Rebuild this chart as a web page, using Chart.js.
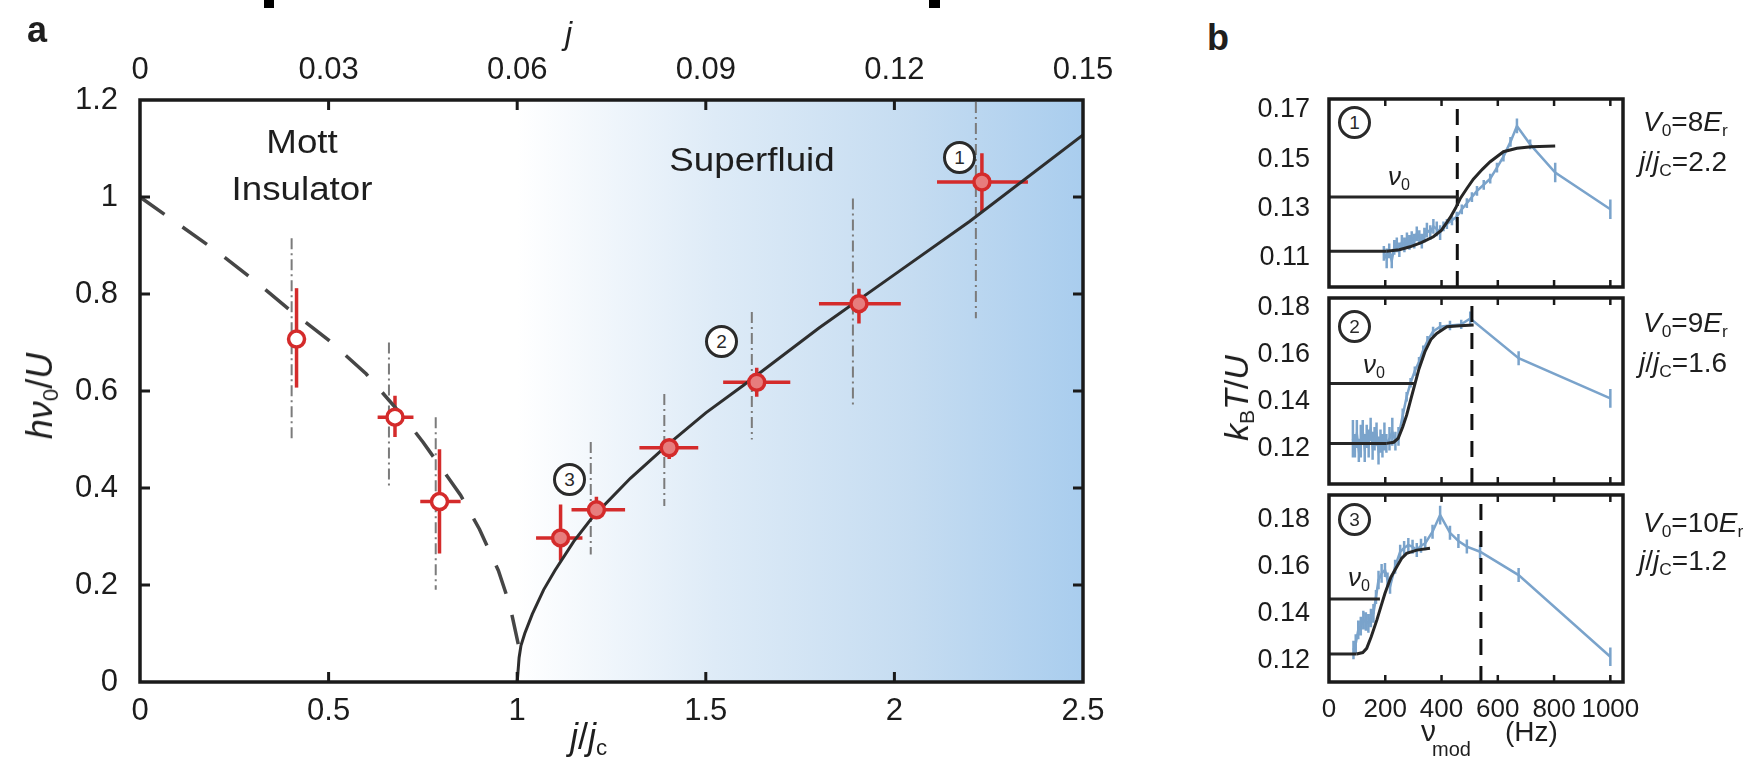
<!DOCTYPE html>
<html lang="en">
<head>
<meta charset="UTF-8">
<title>Mott insulator to superfluid: excitation gap</title>
<script src="https://cdn.jsdelivr.net/npm/chart.js"></script>
<style>
  body { margin: 0; background: #fff; font-family: "Liberation Sans", Arial, sans-serif; color: #1e1e1e; }
  #page { position: relative; width: 1763px; height: 758px; overflow: hidden; background: #fff; }
  canvas { position: absolute; }
  .lbl { position: absolute; white-space: nowrap; line-height: 1; }
  .ctr { transform: translateX(-50%) scaleX(1.08); }
  .rot { transform: translate(-50%, -50%) rotate(-90deg); }
  .lbl sub { font-size: 0.62em; vertical-align: -0.28em; line-height: 0; }
  .circ { position: absolute; width: 27px; height: 27px; border: 3px solid #2a2a2a; border-radius: 50%;
          background: #fff; font-size: 19px; line-height: 27px; text-align: center; color: #2a2a2a; }
  .crop { position: absolute; top: 0; height: 8px; background: #000; }
</style>
</head>
<body>
<div id="page">
  <canvas id="gapChart" width="1150" height="758" style="left:0;top:0"></canvas>
  <canvas id="spec1" width="400" height="205" style="left:1250px;top:90px"></canvas>
  <canvas id="spec2" width="400" height="200" style="left:1250px;top:290px"></canvas>
  <canvas id="spec3" width="400" height="273" style="left:1250px;top:485px"></canvas>

  <!-- bits of the cropped heading above the figure -->
  <div class="crop" style="left:264px;width:10px"></div>
  <div class="crop" style="left:929px;width:11px"></div>

  <!-- panel a text -->
  <div class="lbl" style="left:27px;top:12px;font-size:36px;font-weight:bold">a</div>
  <div class="lbl" style="left:565px;top:17px;font-size:32px;font-style:italic">j</div>
  <div class="lbl ctr" style="left:302px;top:124px;font-size:34px">Mott</div>
  <div class="lbl ctr" style="left:302px;top:171px;font-size:34px">Insulator</div>
  <div class="lbl ctr" style="left:752px;top:142px;font-size:34px">Superfluid</div>
  <div class="lbl rot" style="left:40px;top:396px;font-size:36px"><i>h</i><i>ν</i><sub>0</sub>/<i>U</i></div>
  <div class="lbl" style="left:570px;top:719px;font-size:36px"><i>j</i>/<i>j</i><sub>c</sub></div>
  <div class="circ" style="left:943px;top:141px">1</div>
  <div class="circ" style="left:705px;top:325px">2</div>
  <div class="circ" style="left:553px;top:463px">3</div>

  <!-- panel b text -->
  <div class="lbl" style="left:1207px;top:20px;font-size:36px;font-weight:bold">b</div>
  <div class="lbl rot" style="left:1236px;top:398px;font-size:34px"><i>k</i><sub>B</sub><i>T</i>/<i>U</i></div>
  <div class="circ" style="left:1338px;top:106px">1</div>
  <div class="circ" style="left:1338px;top:310px">2</div>
  <div class="circ" style="left:1338px;top:503px">3</div>
  <div class="lbl" style="left:1388px;top:163px;font-size:26px"><i>ν</i><sub>0</sub></div>
  <div class="lbl" style="left:1363px;top:351px;font-size:26px"><i>ν</i><sub>0</sub></div>
  <div class="lbl" style="left:1348px;top:564px;font-size:26px"><i>ν</i><sub>0</sub></div>
  <div class="lbl" style="left:1643px;top:108px;font-size:28px"><i>V</i><sub>0</sub>=8<i>E</i><sub>r</sub></div>
  <div class="lbl" style="left:1639px;top:148px;font-size:28px"><i>j</i>/<i>j</i><sub>C</sub>=2.2</div>
  <div class="lbl" style="left:1643px;top:309px;font-size:28px"><i>V</i><sub>0</sub>=9<i>E</i><sub>r</sub></div>
  <div class="lbl" style="left:1639px;top:349px;font-size:28px"><i>j</i>/<i>j</i><sub>C</sub>=1.6</div>
  <div class="lbl" style="left:1643px;top:509px;font-size:28px"><i>V</i><sub>0</sub>=10<i>E</i><sub>r</sub></div>
  <div class="lbl" style="left:1639px;top:547px;font-size:28px"><i>j</i>/<i>j</i><sub>C</sub>=1.2</div>
  <div class="lbl" style="left:1421px;top:716px;font-size:30px">ν</div>
  <div class="lbl" style="left:1432px;top:739px;font-size:20px">mod</div>
  <div class="lbl" style="left:1505px;top:718px;font-size:28px">(Hz)</div>
</div>

<script>
// ---- panel a: axes ----
const jjcTicks = [0, 0.5, 1, 1.5, 2, 2.5];
const jjcLabels = ['0', '0.5', '1', '1.5', '2', '2.5'];
const jTicks = [0, 0.03, 0.06, 0.09, 0.12, 0.15];
const jLabels = ['0', '0.03', '0.06', '0.09', '0.12', '0.15'];
const gapTicks = [0, 0.2, 0.4, 0.6, 0.8, 1, 1.2];
const gapLabels = ['0', '0.2', '0.4', '0.6', '0.8', '1', '1.2'];

// ---- panel a: measured gap (red) ----
const gapX   = [0.415, 0.676, 0.794, 1.115, 1.21, 1.403, 1.635, 1.906, 2.232];
const gapY   = [0.707, 0.546, 0.372, 0.297, 0.355, 0.483, 0.618, 0.78, 1.031];
const gapXLo = [null, 0.63, 0.743, 1.05, 1.144, 1.324, 1.546, 1.80, 2.113];
const gapXHi = [null, 0.725, 0.85, 1.173, 1.286, 1.48, 1.724, 2.017, 2.354];
const gapYLo = [0.607, 0.505, 0.265, 0.25, 0.337, 0.46, 0.588, 0.739, 0.969];
const gapYHi = [0.812, 0.59, 0.48, 0.366, 0.382, 0.5, 0.648, 0.811, 1.09];
const superfluid = [false, false, false, true, true, true, true, true, true];

// grey dash-dot ranges
const rangeX  = [0.402, 0.66, 0.784, null, 1.195, 1.39, 1.622, 1.89, 2.216];
const rangeLo = [0.502, 0.405, 0.19, null, 0.263, 0.363, 0.5, 0.57, 0.75];
const rangeHi = [0.915, 0.70, 0.546, null, 0.495, 0.594, 0.763, 0.997, 1.196];

// theory curves
const mottX = [0, 0.1, 0.2, 0.3, 0.4, 0.5, 0.6, 0.7, 0.75, 0.8, 0.85, 0.9, 0.95, 0.98, 1.005];
const mottY = [1.0, 0.945, 0.89, 0.83, 0.765, 0.705, 0.635, 0.545, 0.495, 0.44, 0.385, 0.315, 0.23, 0.16, 0.07];
const sfX = [1.0, 1.005, 1.01, 1.02, 1.04, 1.07, 1.1, 1.15, 1.2, 1.3, 1.4, 1.5, 1.6, 1.8, 2.0, 2.2, 2.5];
const sfY = [0, 0.05, 0.075, 0.1, 0.14, 0.19, 0.23, 0.29, 0.34, 0.42, 0.49, 0.555, 0.612, 0.73, 0.84, 0.95, 1.128];

// ---- panel b: axes ----
const freqTicks = [0, 200, 400, 600, 800, 1000];
const freqLabels = ['0', '200', '400', '600', '800', '1000'];
const tempTicks = [[0.11, 0.13, 0.15, 0.17], [0.12, 0.14, 0.16, 0.18], [0.12, 0.14, 0.16, 0.18]];
const tempLabels = [['0.11', '0.13', '0.15', '0.17'], ['0.12', '0.14', '0.16', '0.18'], ['0.12', '0.14', '0.16', '0.18']];
const tempMin = [0.0978, 0.1046, 0.1106];
const tempMax = [0.1745, 0.1843, 0.1907];

// ---- panel b: heating spectra (blue) ----
const f1 = [195, 205, 214, 223, 232, 241, 250, 259, 268, 277, 286, 294, 303, 312, 321, 330, 339, 348, 360, 371,
            383, 395, 407, 419, 437, 454, 472, 490, 508, 526, 550, 573, 597, 620, 645, 668, 715, 804, 1000];
const t1 = [0.1115, 0.1095, 0.1125, 0.1085, 0.1140, 0.1150, 0.1130, 0.1160, 0.1150, 0.1170, 0.1160, 0.1175, 0.1165,
            0.1195, 0.1180, 0.1165, 0.1190, 0.1210, 0.1200, 0.1225, 0.1215, 0.1200, 0.1225, 0.1235, 0.1250, 0.1265,
            0.1295, 0.1320, 0.1345, 0.1370, 0.1395, 0.1420, 0.1465, 0.1510, 0.1570, 0.1635, 0.1560, 0.1445, 0.1295];
const e1 = [0.003, 0.004, 0.003, 0.003, 0.003, 0.003, 0.003, 0.003, 0.003, 0.003, 0.003, 0.003, 0.003, 0.003, 0.003,
            0.003, 0.003, 0.003, 0.003, 0.003, 0.003, 0.003, 0.002, 0.002, 0.002, 0.002, 0.002, 0.002, 0.002, 0.002,
            0.002, 0.002, 0.002, 0.002, 0.002, 0.003, 0.002, 0.004, 0.004];

const f2 = [85, 92, 99, 106, 113, 120, 127, 134, 141, 148, 155, 162, 169, 176, 183, 190, 197, 204, 215, 225, 236, 247,
            262, 276, 290, 305, 320, 335, 350, 370, 395, 430, 470, 502, 674, 1000];
const t2 = [0.124, 0.121, 0.126, 0.119, 0.123, 0.127, 0.120, 0.125, 0.122, 0.128, 0.121, 0.124, 0.126, 0.119, 0.123,
            0.121, 0.125, 0.122, 0.124, 0.127, 0.123, 0.125, 0.134, 0.142, 0.148, 0.153, 0.157, 0.162, 0.166, 0.170,
            0.172, 0.1725, 0.173, 0.1755, 0.1585, 0.1413];
const e2 = [0.008, 0.005, 0.006, 0.005, 0.007, 0.005, 0.006, 0.005, 0.006, 0.005, 0.006, 0.005, 0.005, 0.006, 0.005,
            0.005, 0.006, 0.004, 0.005, 0.006, 0.004, 0.004, 0.003, 0.002, 0.002, 0.002, 0.002, 0.002, 0.002, 0.002,
            0.002, 0.002, 0.002, 0.003, 0.003, 0.004];

const f3 = [87, 95, 104, 113, 122, 131, 140, 149, 158, 167, 176, 187, 199, 208, 217, 235, 253, 267, 282, 297, 312,
            327, 342, 368, 395, 430, 460, 490, 537, 674, 1000];
const t3 = [0.1243, 0.127, 0.1329, 0.1345, 0.1371, 0.1365, 0.1357, 0.138, 0.140, 0.147, 0.1543, 0.1571, 0.1586,
            0.1545, 0.1514, 0.160, 0.1664, 0.168, 0.1693, 0.1685, 0.1671, 0.169, 0.170, 0.175, 0.1821, 0.1745,
            0.171, 0.1686, 0.1664, 0.1564, 0.1214];
const e3 = [0.004, 0.004, 0.004, 0.004, 0.004, 0.004, 0.004, 0.004, 0.004, 0.003, 0.004, 0.004, 0.003, 0.003, 0.003,
            0.003, 0.003, 0.003, 0.003, 0.003, 0.003, 0.003, 0.003, 0.003, 0.004, 0.003, 0.003, 0.003, 0.003, 0.003,
            0.004];

// fitted step functions (black)
const fit1F = [205, 250, 288, 330, 371, 400, 431, 450, 466, 490, 513, 545, 573, 620, 668, 720, 804];
const fit1T = [0.1124, 0.1130, 0.1142, 0.1160, 0.1183, 0.1210, 0.1262, 0.1300, 0.1338, 0.1380, 0.1418, 0.1458,
               0.1489, 0.1530, 0.1544, 0.1550, 0.1553];
const fit2F = [205, 230, 246, 262, 276, 291, 306, 320, 341, 362, 383, 419, 466, 514];
const fit2T = [0.122, 0.1225, 0.1242, 0.129, 0.1341, 0.141, 0.1477, 0.154, 0.1613, 0.1665, 0.1691, 0.172, 0.1724, 0.1727];
const fit3F = [98, 120, 134, 150, 170, 185, 199, 220, 241, 258, 276, 312, 359];
const fit3T = [0.1226, 0.1232, 0.125, 0.130, 0.1371, 0.1431, 0.1486, 0.1555, 0.160, 0.1635, 0.1657, 0.1671, 0.1679];

const baseEnd = [205, 205, 98];
const baseLevel = [0.1124, 0.122, 0.1226];
const nuEnd = [460, 302, 181];
const nuLevel = [0.1345, 0.1477, 0.1461];
const peakFreq = [456, 508, 540];

Chart.defaults.font.family = '"Liberation Sans", Arial, Helvetica, sans-serif';
Chart.defaults.color = '#1c1c1c';

const pts = (xs, ys) => xs.map((x, i) => ({ x: x, y: ys[i] }));
const fixTicks = (vals) => (s) => { s.ticks = vals.map(v => ({ value: v })); };

// shading, ranges, error bars, frame and inward ticks for panel a
const gapDecor = {
    id: 'gapDecor',
    beforeDatasetsDraw(chart) {
        const { ctx, chartArea: a, scales: { x, y } } = chart;
        ctx.save();
        const x0 = x.getPixelForValue(1), x1 = x.getPixelForValue(2.5);
        const g = ctx.createLinearGradient(x0, 0, x1, 0);
        g.addColorStop(0, '#ffffff');
        g.addColorStop(0.35, '#deebf7');
        g.addColorStop(0.7, '#c5dcf1');
        g.addColorStop(1, '#a9cdee');
        ctx.fillStyle = g;
        ctx.fillRect(x0, a.top, x1 - x0, a.bottom - a.top);

        ctx.strokeStyle = '#7b7b7b';
        ctx.lineWidth = 2;
        ctx.setLineDash([11, 4, 2, 4]);
        rangeX.forEach((rx, i) => {
            if (rx === null) return;
            ctx.beginPath();
            ctx.moveTo(x.getPixelForValue(rx), y.getPixelForValue(rangeHi[i]));
            ctx.lineTo(x.getPixelForValue(rx), y.getPixelForValue(rangeLo[i]));
            ctx.stroke();
        });
        ctx.setLineDash([]);

        ctx.strokeStyle = '#d42b2b';
        ctx.lineWidth = 3.5;
        gapX.forEach((gx, i) => {
            const px = x.getPixelForValue(gx), py = y.getPixelForValue(gapY[i]);
            ctx.beginPath();
            ctx.moveTo(px, y.getPixelForValue(gapYHi[i]));
            ctx.lineTo(px, y.getPixelForValue(gapYLo[i]));
            if (gapXLo[i] !== null) {
                ctx.moveTo(x.getPixelForValue(gapXLo[i]), py);
                ctx.lineTo(x.getPixelForValue(gapXHi[i]), py);
            }
            ctx.stroke();
        });
        ctx.restore();
    },
    afterDraw(chart) {
        const { ctx, chartArea: a, scales: { x, x2, y } } = chart;
        ctx.save();
        ctx.strokeStyle = '#1a1a1a';
        ctx.lineWidth = 3;
        ctx.beginPath();
        jjcTicks.slice(1, -1).forEach(v => {
            const px = x.getPixelForValue(v);
            ctx.moveTo(px, a.bottom); ctx.lineTo(px, a.bottom - 10);
        });
        jTicks.slice(1, -1).forEach(v => {
            const px = x2.getPixelForValue(v);
            ctx.moveTo(px, a.top); ctx.lineTo(px, a.top + 10);
        });
        gapTicks.slice(1, -1).forEach(v => {
            const py = y.getPixelForValue(v);
            ctx.moveTo(a.left, py); ctx.lineTo(a.left + 10, py);
            ctx.moveTo(a.right, py); ctx.lineTo(a.right - 10, py);
        });
        ctx.stroke();
        ctx.lineWidth = 3.5;
        ctx.strokeRect(a.left, a.top, a.right - a.left, a.bottom - a.top);
        ctx.restore();
    }
};

new Chart(document.getElementById('gapChart'), {
    type: 'scatter',
    data: {
        datasets: [
            {
                label: 'measured gap',
                data: pts(gapX, gapY),
                pointRadius: 8,
                pointBorderWidth: 3.5,
                pointBorderColor: '#d42b2b',
                pointBackgroundColor: superfluid.map(s => s ? '#e77d7d' : '#ffffff'),
                order: 0
            },
            {
                label: 'Mott boundary',
                data: pts(mottX, mottY),
                showLine: true,
                pointRadius: 0,
                borderColor: '#464646',
                borderWidth: 3.5,
                borderDash: [30, 22],
                order: 1
            },
            {
                label: 'superfluid gap',
                data: pts(sfX, sfY),
                showLine: true,
                pointRadius: 0,
                borderColor: '#2e2e2e',
                borderWidth: 3,
                order: 1
            }
        ]
    },
    options: {
        responsive: false,
        animation: false,
        devicePixelRatio: 1,
        layout: { padding: { left: 0, right: 67, top: 0, bottom: 0 } },
        plugins: { legend: { display: false }, tooltip: { enabled: false } },
        scales: {
            x: {
                type: 'linear', position: 'bottom', min: 0, max: 2.5,
                grid: { display: false }, border: { display: false },
                afterBuildTicks: fixTicks(jjcTicks),
                afterFit: s => { s.height = 76; },
                ticks: { callback: (v, i) => jjcLabels[i], padding: 3, font: { size: 31 },
                         autoSkip: false, maxRotation: 0, minRotation: 0 }
            },
            x2: {
                type: 'linear', position: 'top', min: 0, max: 0.15,
                grid: { display: false }, border: { display: false },
                afterBuildTicks: fixTicks(jTicks),
                afterFit: s => { s.height = 100; },
                ticks: { callback: (v, i) => jLabels[i], padding: 3, font: { size: 31 },
                         autoSkip: false, maxRotation: 0, minRotation: 0 }
            },
            y: {
                type: 'linear', position: 'left', min: 0, max: 1.2,
                grid: { display: false }, border: { display: false },
                afterBuildTicks: fixTicks(gapTicks),
                afterFit: s => { s.width = 140; },
                ticks: { callback: (v, i) => gapLabels[i], padding: 14, font: { size: 31 }, autoSkip: false }
            }
        }
    },
    plugins: [gapDecor]
});

// panel b: one chart per lattice depth
function spectrum(canvasId, k, freq, temp, err, fitF, fitT, pad, showX) {
    const decor = {
        id: 'specDecor' + k,
        beforeDatasetsDraw(chart) {
            const { ctx, scales: { x, y } } = chart;
            ctx.save();
            ctx.strokeStyle = '#7aa3cb';
            ctx.lineWidth = 2.5;
            ctx.beginPath();
            freq.forEach((f, i) => {
                const px = x.getPixelForValue(f);
                ctx.moveTo(px, y.getPixelForValue(temp[i] + err[i]));
                ctx.lineTo(px, y.getPixelForValue(temp[i] - err[i]));
            });
            ctx.stroke();
            ctx.restore();
        },
        afterDraw(chart) {
            const { ctx, chartArea: a, scales: { x } } = chart;
            ctx.save();
            ctx.strokeStyle = '#1a1a1a';
            ctx.lineWidth = 2.5;
            ctx.beginPath();
            freqTicks.slice(1).forEach(v => {
                const px = x.getPixelForValue(v);
                ctx.moveTo(px, a.bottom); ctx.lineTo(px, a.bottom - 7);
                ctx.moveTo(px, a.top); ctx.lineTo(px, a.top + 7);
            });
            ctx.stroke();
            ctx.lineWidth = 3.5;
            ctx.strokeRect(a.left, a.top, a.right - a.left, a.bottom - a.top);
            ctx.restore();
        }
    };
    const flat = (x0, x1, v) => [{ x: x0, y: v }, { x: x1, y: v }];
    new Chart(document.getElementById(canvasId), {
        type: 'scatter',
        data: {
            datasets: [
                { data: pts(fitF, fitT), showLine: true, pointRadius: 0, borderColor: '#262626', borderWidth: 3, order: 0 },
                { data: flat(0, baseEnd[k], baseLevel[k]), showLine: true, pointRadius: 0, borderColor: '#262626', borderWidth: 3, order: 0 },
                { data: flat(0, nuEnd[k], nuLevel[k]), showLine: true, pointRadius: 0, borderColor: '#262626', borderWidth: 3, order: 0 },
                { data: [{ x: peakFreq[k], y: tempMin[k] }, { x: peakFreq[k], y: tempMax[k] }], showLine: true,
                  pointRadius: 0, borderColor: '#111', borderWidth: 3, borderDash: [16, 11], order: 0 },
                { data: pts(freq, temp), showLine: true, pointRadius: 0, borderColor: '#7aa3cb', borderWidth: 2.5, order: 1 }
            ]
        },
        options: {
            responsive: false,
            animation: false,
            devicePixelRatio: 1,
            layout: { padding: pad },
            plugins: { legend: { display: false }, tooltip: { enabled: false } },
            scales: {
                x: {
                    type: 'linear', min: 0, max: 1045, display: showX,
                    grid: { display: false }, border: { display: false },
                    afterBuildTicks: fixTicks(freqTicks),
                    afterFit: s => { s.height = showX ? 76 : 0; s.paddingLeft = 0; s.paddingRight = 0; },
                    ticks: { callback: (v, i) => freqLabels[i], padding: 4, font: { size: 26 },
                             autoSkip: false, maxRotation: 0, minRotation: 0 }
                },
                y: {
                    type: 'linear', min: tempMin[k], max: tempMax[k],
                    grid: { display: false }, border: { display: false },
                    afterBuildTicks: fixTicks(tempTicks[k]),
                    afterFit: s => { s.width = 79; s.paddingTop = 0; s.paddingBottom = 0; },
                    ticks: { callback: (v, i) => tempLabels[k][i], padding: 11, font: { size: 27 }, autoSkip: false }
                }
            }
        },
        plugins: [decor]
    });
}

spectrum('spec1', 0, f1, t1, e1, fit1F, fit1T, { top: 9, right: 27, bottom: 8, left: 0 }, false);
spectrum('spec2', 1, f2, t2, e2, fit2F, fit2T, { top: 8, right: 27, bottom: 6, left: 0 }, false);
spectrum('spec3', 2, f3, t3, e3, fit3F, fit3T, { top: 10, right: 27, bottom: 0, left: 0 }, true);
</script>
</body>
</html>
